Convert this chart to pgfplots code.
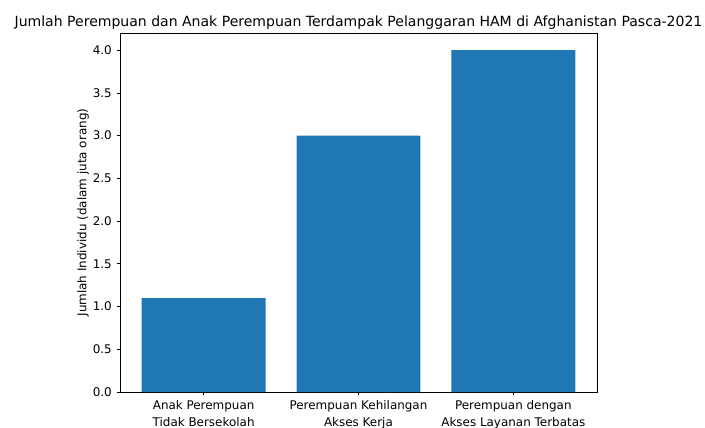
\documentclass[border=0pt]{standalone}
\usepackage{fontspec}
\setmainfont{DejaVu Sans}
\usepackage{pgfplots}
\pgfplotsset{compat=1.18}
\definecolor{mplblue}{HTML}{1F77B4}
\begin{document}
\begin{tikzpicture}
\useasboundingbox (-86.4pt,-25.2pt) rectangle (421.2pt,282.3pt);
\begin{axis}[
  at={(0pt,0pt)}, anchor=south west,
  scale only axis,
  width=343.4pt, height=258.5pt,
  xmin=-0.54, xmax=2.54,
  ymin=0, ymax=4.2,
  xtick={0,1,2},
  xticklabels={{Anak Perempuan\\Tidak Bersekolah},{Perempuan Kehilangan\\Akses Kerja},{Perempuan dengan\\Akses Layanan Terbatas}},
  xticklabel style={align=center, font=\fontsize{8.6}{12}\selectfont},
  ytick={0,0.5,...,4.0},
  yticklabel style={/pgf/number format/.cd, fixed, fixed zerofill, precision=1, /tikz/.cd, font=\fontsize{8.6}{10}\selectfont},
  /pgf/number format/assume math mode=true,
  tick align=outside,
  major tick length=2.4pt,
  tick style={black, line width=0.55pt},
  xtick pos=bottom, ytick pos=left,
  axis line style={black, line width=0.55pt},
  ylabel={Jumlah Individu (dalam juta orang)},
  ylabel style={font=\fontsize{8.6}{10}\selectfont, yshift=-4pt},
  title={Jumlah Perempuan dan Anak Perempuan Terdampak Pelanggaran HAM di Afghanistan Pasca-2021},
  title style={font=\fontsize{10.1}{12}\selectfont, at={(0.5,1)}, anchor=base, yshift=-1pt},
]
\addplot[ybar, bar width=0.8, fill=mplblue, draw=none] coordinates {(0,1.1) (1,3.0) (2,4.0)};
\end{axis}
\end{tikzpicture}
\end{document}
